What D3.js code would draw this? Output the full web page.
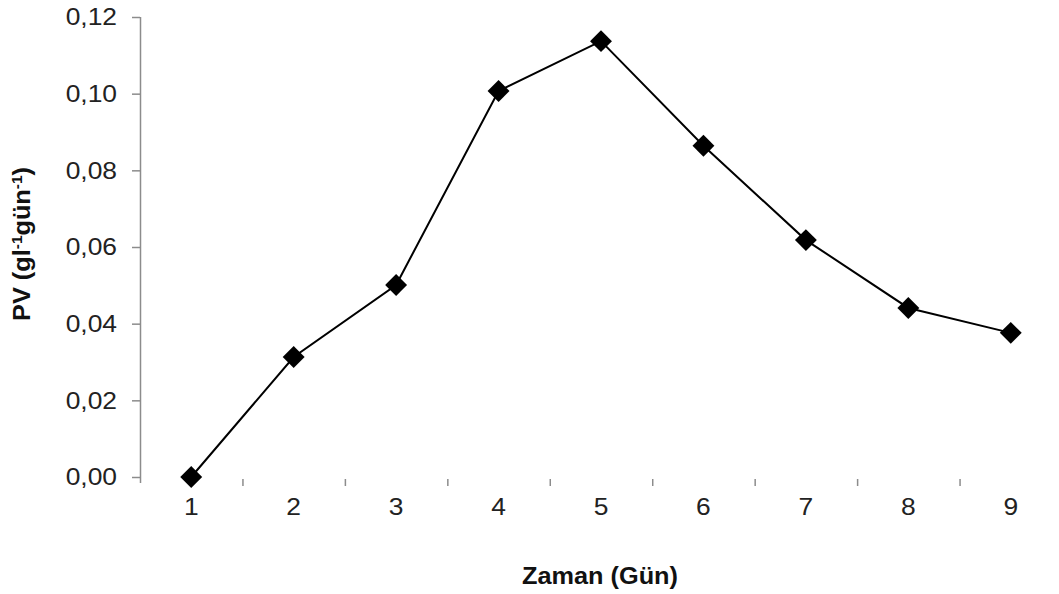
<!DOCTYPE html>
<html>
<head>
<meta charset="utf-8">
<script src="https://cdn.jsdelivr.net/npm/d3@7"></script>
<style>
  body { margin: 0; background: #fff; }
  text { font-family: "Liberation Sans", Arial, sans-serif; }
</style>
</head>
<body>
<div id="chart"></div>
<script>
// data
var days = ["1", "2", "3", "4", "5", "6", "7", "8", "9"];
var pvValues = [0.000, 0.0313, 0.0501, 0.1007, 0.1137, 0.0864, 0.0618, 0.0441, 0.0376];
var yTicks = [0, 0.02, 0.04, 0.06, 0.08, 0.10, 0.12];

var W = 1059, H = 594;
var margin = {top: 17, right: -3, bottom: 117, left: 140};
var stretch = 1.1; // the original text is a bit wider than Arial

var svg = d3.select("#chart").append("svg")
  .attr("width", W)
  .attr("height", H);

var x = d3.scaleBand()
  .domain(days)
  .range([margin.left, W - margin.right])
  .padding(0);

var y = d3.scaleLinear()
  .domain([0, 0.12])
  .range([H - margin.bottom, margin.top]);

// y axis
var yAxis = svg.append("g")
  .attr("transform", "translate(" + margin.left + ",0)")
  .call(d3.axisLeft(y).tickValues(yTicks).tickSize(8)
    .tickFormat(function(d) { return d3.format(".2f")(d).replace(".", ","); }));
yAxis.select(".domain").attr("stroke", "#8c8c8c").attr("stroke-width", 1.5)
  .attr("d", "M0.5," + margin.top + "V" + (H - margin.bottom + 6));
yAxis.selectAll(".tick line").attr("stroke", "#8c8c8c").attr("stroke-width", 1.5);
yAxis.selectAll(".tick text")
  .attr("fill", "#222")
  .attr("x", -23 / stretch)
  .attr("transform", "scale(" + stretch + ",1)")
  .style("font-size", "24px");

// x axis: no line, small ticks between categories
var xAxis = svg.append("g")
  .attr("transform", "translate(0," + (H - margin.bottom) + ")")
  .call(d3.axisBottom(x).tickSize(0).tickPadding(21));
xAxis.select(".domain").remove();
xAxis.selectAll(".tick text")
  .attr("fill", "#222")
  .attr("transform", "scale(" + stretch + ",1)")
  .style("font-size", "24px");

var bounds = days.slice(1).map(function(d) { return x(d); });
xAxis.selectAll(".sep")
  .data(bounds)
  .enter().append("line")
  .attr("class", "sep")
  .attr("x1", function(d) { return d + 0.5; })
  .attr("x2", function(d) { return d + 0.5; })
  .attr("y1", 2)
  .attr("y2", 9)
  .attr("stroke", "#8c8c8c")
  .attr("stroke-width", 1.5);

// line
var pts = days.map(function(d, i) { return [x(d) + x.bandwidth() / 2, y(pvValues[i])]; });

svg.append("path")
  .datum(pts)
  .attr("fill", "none")
  .attr("stroke", "#000")
  .attr("stroke-width", 2)
  .attr("d", d3.line());

svg.selectAll(".marker")
  .data(pts)
  .enter().append("path")
  .attr("class", "marker")
  .attr("d", d3.symbol().type(d3.symbolSquare).size(240))
  .attr("transform", function(d) { return "translate(" + d[0] + "," + d[1] + ") rotate(45)"; })
  .attr("fill", "#000");

// axis titles
svg.append("text")
  .attr("transform", "translate(600,584) scale(" + stretch + ",1)")
  .attr("text-anchor", "middle")
  .attr("fill", "#111")
  .style("font-size", "23px")
  .style("font-weight", "bold")
  .text("Zaman (Gün)");

var yt = svg.append("text")
  .attr("transform", "translate(30,244) rotate(-90) scale(" + stretch + ",1)")
  .attr("text-anchor", "middle")
  .attr("fill", "#111")
  .style("font-size", "23px")
  .style("font-weight", "bold");
yt.append("tspan").text("PV (gl");
yt.append("tspan").attr("baseline-shift", "super").style("font-size", "14px").text("-1");
yt.append("tspan").text("gün");
yt.append("tspan").attr("baseline-shift", "super").style("font-size", "14px").text("-1");
yt.append("tspan").text(")");
</script>
</body>
</html>
